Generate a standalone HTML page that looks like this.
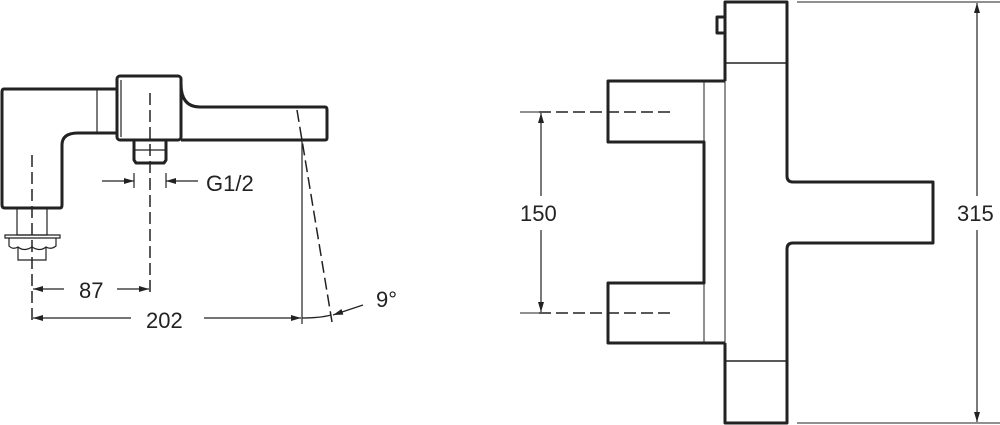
<!DOCTYPE html>
<html><head><style>html,body{margin:0;padding:0;background:#fff}svg{display:block}</style></head>
<body>
<svg width="1000" height="425" viewBox="0 0 1000 425" xmlns="http://www.w3.org/2000/svg" font-family="Liberation Sans, sans-serif" fill="none" stroke="#222">
<defs>
<marker id="a" viewBox="0 0 10 6" refX="10" refY="3" markerWidth="10" markerHeight="6" orient="auto-start-reverse" markerUnits="userSpaceOnUse"><path d="M0,0 L10,3 L0,6 Z" fill="#222" stroke="none"/></marker>
</defs>
<!-- LEFT VIEW -->
<g stroke-width="3" stroke-linejoin="round">
<path d="M117,89 L4,89 Q2,89 2,92 L2,205 Q2,208 5,208 L60,208 Q62,208 62,205 L62,145 Q62,133 78,133 L117,133"/>
<rect x="117" y="76" width="64" height="64" rx="3"/>
<path d="M181,84 Q181,107 200,107 L325,107 Q327,107 327,110 L327,138 Q327,140 325,140 L181,140"/>
<path d="M134,140 L134,160 L136,163 L164,163 L166,160 L166,140"/>
</g>
<g stroke-width="1.2">
<line x1="97" y1="89" x2="97" y2="133"/>
<line x1="121" y1="80" x2="121" y2="137"/>
<line x1="134" y1="150" x2="166" y2="150"/>
<rect x="17" y="208" width="30" height="27"/>
<path d="M5,235 L60,235 L60,238 L5,238 Z"/>
<path d="M9,238 L9,246 Q13,250 18,247 Q24,252 32,247 Q40,252 46,247 Q51,250 56,246 L56,238"/>
<path d="M18,247 L18,260 L46,260 L46,247"/>
</g>
<g stroke-width="1.5" stroke-dasharray="12,5">
<line x1="32" y1="155" x2="32" y2="322"/>
<line x1="150" y1="93" x2="150" y2="296"/>
<line x1="297" y1="110" x2="332" y2="322"/>
<line x1="539" y1="112" x2="673" y2="112"/>
<line x1="539" y1="313" x2="673" y2="313"/>
</g>
<g stroke-width="1.2">
<line x1="302" y1="140" x2="302" y2="324"/>
<line x1="134" y1="173" x2="134" y2="188"/>
<line x1="166" y1="173" x2="166" y2="188"/>
<line x1="102" y1="181" x2="134" y2="181" marker-end="url(#a)"/>
<line x1="198" y1="181" x2="166" y2="181" marker-end="url(#a)"/>
<line x1="64" y1="289" x2="33" y2="289" marker-end="url(#a)"/>
<line x1="117" y1="289" x2="149" y2="289" marker-end="url(#a)"/>
<line x1="131" y1="318" x2="33" y2="318" marker-end="url(#a)"/>
<line x1="204" y1="318" x2="301" y2="318" marker-end="url(#a)"/>
<path d="M302,318 Q320,318 331,315"/>
<line x1="363" y1="305" x2="333" y2="315" marker-end="url(#a)"/>
</g>
<g fill="#222" stroke="none" font-size="22">
<text x="206" y="191">G1/2</text>
<text x="79" y="298">87</text>
<text x="146" y="328">202</text>
<text x="376" y="307">9°</text>
<text x="520" y="221">150</text>
<text x="957" y="221">315</text>
</g>
<!-- RIGHT VIEW -->
<g stroke-width="3" stroke-linejoin="round">
<path d="M725,81 L725,2 L787,2 L787,176 Q787,182 793,182 L933,182 L933,243 L793,243 Q787,243 787,249 L787,423 L725,423 L725,343"/>
<path d="M725,81 L608,81 L608,142 L704,142 L704,283 L608,283 L608,343 L725,343"/>
<path d="M725,17 L717,17 L717,33 L725,33"/>
</g>
<g stroke-width="1.5">
<line x1="725" y1="63" x2="787" y2="63"/>
<line x1="725" y1="361" x2="787" y2="361"/>
</g>
<g stroke-width="1">
<line x1="704" y1="81" x2="704" y2="343"/>
<line x1="725" y1="81" x2="725" y2="343"/>
<line x1="797" y1="2" x2="1000" y2="2"/>
<line x1="797" y1="423" x2="1000" y2="423"/>
<line x1="520" y1="112" x2="539" y2="112"/>
<line x1="520" y1="313" x2="539" y2="313"/>
</g>
<g stroke-width="1.2">
<line x1="541" y1="196" x2="541" y2="113" marker-end="url(#a)"/>
<line x1="541" y1="230" x2="541" y2="312" marker-end="url(#a)"/>
<line x1="977" y1="196" x2="977" y2="3" marker-end="url(#a)"/>
<line x1="977" y1="230" x2="977" y2="422" marker-end="url(#a)"/>
</g>
</svg>
</body></html>
